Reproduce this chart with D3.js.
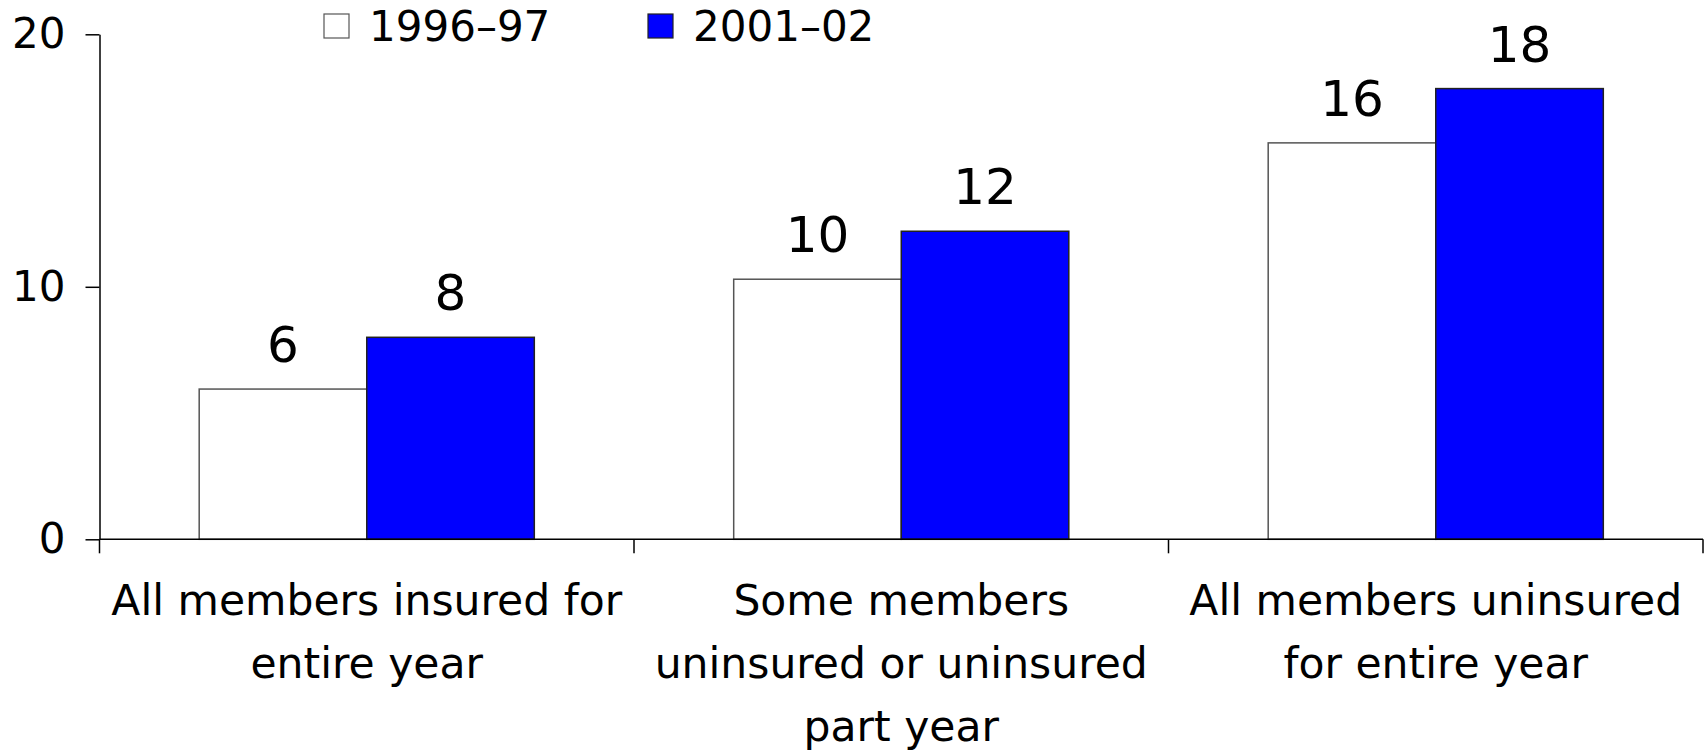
<!DOCTYPE html>
<html>
<head>
<meta charset="utf-8">
<script src="https://cdn.jsdelivr.net/npm/d3@7"></script>
<style>
  html, body { margin: 0; padding: 0; background: #ffffff; }
  svg { display: block; font-family: "DejaVu Sans", sans-serif; }
</style>
</head>
<body>
<svg id="chart" width="1706" height="751"></svg>
<script>
// Household groups (each entry holds the wrapped lines of its axis label)
const categories = ["insuredAll", "insuredPart", "uninsuredAll"];
const categoryLines = [
  ["All members insured for", "entire year"],
  ["Some members", "uninsured or uninsured", "part year"],
  ["All members uninsured", "for entire year"]
];
const seriesNames = ["1996–97", "2001–02"];
const values1996 = [5.95, 10.3, 15.7];
const values2001 = [8.0, 12.2, 17.85];
const seriesColors = ["#ffffff", "#0000ff"];
const yTickValues = [0, 10, 20];

const rows = categories.map((c, i) => ({
  key: c,
  lines: categoryLines[i],
  vals: [values1996[i], values2001[i]]
}));

const svg = d3.select("#chart");
const plot = { left: 99.5, right: 1703, top: 34.3, bottom: 539.3 };

const x = d3.scaleBand()
  .domain(categories)
  .range([plot.left, plot.right])
  .paddingInner(0)
  .paddingOuter(0);

const xSub = d3.scaleBand()
  .domain(seriesNames)
  .range([0, x.bandwidth()])
  .paddingInner(0)
  .paddingOuter(0.595);

const y = d3.scaleLinear().domain([0, 20]).range([plot.bottom, plot.top]);
const fmt = d3.format(".0f");

// Bars
const groups = svg.append("g").selectAll("g")
  .data(rows)
  .join("g")
  .attr("transform", d => `translate(${x(d.key)},0)`);

groups.selectAll("rect")
  .data(d => d.vals.map((v, j) => ({ v, s: seriesNames[j], j })))
  .join("rect")
  .attr("x", d => xSub(d.s))
  .attr("y", d => y(d.v))
  .attr("width", xSub.bandwidth())
  .attr("height", d => y(0) - y(d.v))
  .attr("fill", d => seriesColors[d.j])
  .attr("stroke", d => d.j === 0 ? "#555" : "#222")
  .attr("stroke-width", 1.5);

// Value labels above bars
groups.selectAll("text.val")
  .data(d => d.vals.map((v, j) => ({ v, s: seriesNames[j] })))
  .join("text")
  .attr("class", "val")
  .attr("x", d => xSub(d.s) + xSub.bandwidth() / 2)
  .attr("y", d => y(d.v) - 27)
  .attr("text-anchor", "middle")
  .attr("font-size", 50)
  .attr("fill", "#000")
  .text(d => fmt(d.v));

// Y axis
const yAxis = d3.axisLeft(y)
  .tickValues(yTickValues)
  .tickSize(14)
  .tickSizeOuter(0)
  .tickPadding(20)
  .tickFormat(d3.format("d"));

const gy = svg.append("g")
  .attr("transform", `translate(${plot.left},0)`)
  .call(yAxis);
gy.select(".domain").attr("stroke", "#000").attr("stroke-width", 1.5);
gy.selectAll(".tick line").attr("stroke", "#000").attr("stroke-width", 1.5);
gy.selectAll(".tick text")
  .attr("font-size", 42)
  .attr("font-family", "DejaVu Sans, sans-serif")
  .attr("fill", "#000");

// X axis baseline and group boundary ticks
svg.append("line")
  .attr("x1", plot.left).attr("x2", plot.right)
  .attr("y1", y(0)).attr("y2", y(0))
  .attr("stroke", "#000").attr("stroke-width", 1.5);

const boundaries = categories.map(c => x(c)).concat([x(categories[categories.length - 1]) + x.bandwidth()]);
svg.append("g").selectAll("line")
  .data(boundaries)
  .join("line")
  .attr("x1", d => d).attr("x2", d => d)
  .attr("y1", y(0)).attr("y2", y(0) + 14)
  .attr("stroke", "#000").attr("stroke-width", 1.5);

// Category labels
const catLabels = svg.append("g").selectAll("text")
  .data(rows)
  .join("text")
  .attr("text-anchor", "middle")
  .attr("font-size", 42.5)
  .attr("fill", "#000");

catLabels.selectAll("tspan")
  .data(d => d.lines.map(l => ({ l, cx: x(d.key) + x.bandwidth() / 2 })))
  .join("tspan")
  .attr("x", d => d.cx)
  .attr("y", (d, i) => 615 + i * 63)
  .text(d => d.l);

// Legend
const legend = svg.append("g").selectAll("g")
  .data(seriesNames)
  .join("g")
  .attr("transform", (d, i) => `translate(${[324, 648][i]},14)`);

legend.append("rect")
  .attr("width", 25).attr("height", 24)
  .attr("fill", (d, i) => seriesColors[i])
  .attr("stroke", (d, i) => i === 0 ? "#555" : "#222")
  .attr("stroke-width", 1.2);

legend.append("text")
  .attr("x", 45)
  .attr("y", 27)
  .attr("font-size", 42)
  .attr("fill", "#000")
  .text(d => d);
</script>
</body>
</html>
